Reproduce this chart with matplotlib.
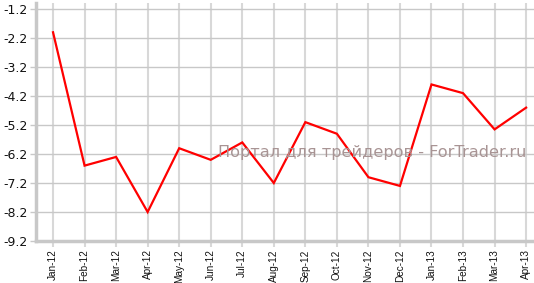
import matplotlib
matplotlib.use("Agg")
import matplotlib.pyplot as plt

months = ["Jan-12", "Feb-12", "Mar-12", "Apr-12", "May-12", "Jun-12", "Jul-12", "Aug-12",
          "Sep-12", "Oct-12", "Nov-12", "Dec-12", "Jan-13", "Feb-13", "Mar-13", "Apr-13"]
values = [-2.0, -6.6, -6.3, -8.2, -6.0, -6.4, -5.8, -7.2,
          -5.1, -5.5, -7.0, -7.3, -3.8, -4.1, -5.35, -4.6]
yticks = [-9.2, -8.2, -7.2, -6.2, -5.2, -4.2, -3.2, -2.2, -1.2]

W, H = 534, 283
fig = plt.figure(figsize=(W / 100, H / 100), dpi=100)
ax = fig.add_axes([36 / W, (H - 241) / H, (534 - 36) / W, (241 - 3) / H])

x = list(range(len(months)))
ax.plot(x, values, color="#ff0000", lw=1.6, zorder=3, solid_joinstyle="miter")

ax.set_xlim(-0.54, 15.25)
ax.set_ylim(-9.2, -0.99)
ax.set_yticks(yticks)
ax.set_yticklabels([f"{v:.1f}" for v in yticks], fontsize=9,
                   family="DejaVu Sans", color="#111111")
ax.set_xticks(x)
ax.set_xticklabels(months, rotation=90, fontsize=7.2, family="Liberation Sans", color="#111111")

ax.grid(axis="y", color="#c8c8c8", lw=1.0)
ax.grid(axis="x", color="#d8d8d8", lw=1.5)
ax.set_axisbelow(True)

for s in ["top", "right"]:
    ax.spines[s].set_visible(False)
for s in ["left", "bottom"]:
    ax.spines[s].set_color("#c8c8c8")
    ax.spines[s].set_linewidth(2.5)

ax.tick_params(axis="y", length=4, width=1, color="#c8c8c8", pad=2)
ax.tick_params(axis="x", length=4, width=1.5, color="#d8d8d8", pad=2)

fig.text(372 / W, 1 - 152 / H, "Портал для трейдеров - ForTrader.ru", fontsize=11.6,
         color="#a89494", ha="center", va="center", family="DejaVu Sans", zorder=5)

fig.savefig("out.png", dpi=100)
